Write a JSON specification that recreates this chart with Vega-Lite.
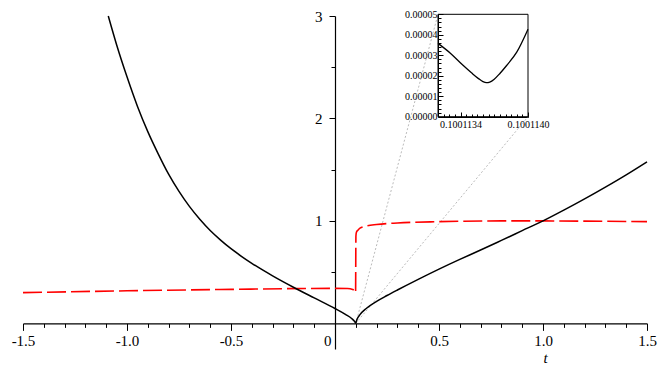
{
  "$schema": "https://vega.github.io/schema/vega-lite/v6.json",
  "width": 624,
  "height": 333,
  "autosize": "none",
  "padding": {"left": 23, "top": 16, "right": 18, "bottom": 26},
  "background": "white",
  "config": {
    "view": {"stroke": null},
    "font": "Liberation Serif",
    "axis": {"labelFont": "Liberation Serif", "titleFont": "Liberation Serif", "labelColor": "#000000", "tickColor": "#000000", "domainColor": "#000000", "grid": false, "labelOverlap": false, "labelFlush": false, "labelBound": false}
  },
  "datasets": {
    "black": [
      {"x": -1.09, "y": 3.0}, {"x": -1.05, "y": 2.72}, {"x": -1.0, "y": 2.4065}, {"x": -0.95, "y": 2.12},
      {"x": -0.9, "y": 1.8715}, {"x": -0.85, "y": 1.655}, {"x": -0.8, "y": 1.4565}, {"x": -0.75, "y": 1.288},
      {"x": -0.7, "y": 1.1415}, {"x": -0.65, "y": 1.016}, {"x": -0.6, "y": 0.9065}, {"x": -0.55, "y": 0.813},
      {"x": -0.5, "y": 0.729}, {"x": -0.45, "y": 0.655}, {"x": -0.4, "y": 0.5865}, {"x": -0.3, "y": 0.464},
      {"x": -0.2, "y": 0.353}, {"x": -0.1, "y": 0.2485}, {"x": 0, "y": 0.145},
      {"x": 0.05, "y": 0.088}, {"x": 0.08, "y": 0.048}, {"x": 0.095, "y": 0.017}, {"x": 0.1, "y": 0.002},
      {"x": 0.105, "y": 0.035}, {"x": 0.12, "y": 0.085}, {"x": 0.15, "y": 0.145}, {"x": 0.2, "y": 0.215},
      {"x": 0.25, "y": 0.272}, {"x": 0.3, "y": 0.326}, {"x": 0.4, "y": 0.43}, {"x": 0.5, "y": 0.53},
      {"x": 0.6, "y": 0.625}, {"x": 0.7, "y": 0.716}, {"x": 0.8, "y": 0.81}, {"x": 0.9, "y": 0.905},
      {"x": 1.0, "y": 1.0}, {"x": 1.1, "y": 1.105}, {"x": 1.2, "y": 1.215}, {"x": 1.3, "y": 1.33},
      {"x": 1.4, "y": 1.45}, {"x": 1.5, "y": 1.577}
    ],
    "red": [
      {"x": -1.5, "y": 0.3}, {"x": -1.0, "y": 0.318}, {"x": -0.5, "y": 0.332}, {"x": 0, "y": 0.342},
      {"x": 0.06, "y": 0.34}, {"x": 0.085, "y": 0.33}, {"x": 0.095, "y": 0.315}, {"x": 0.099, "y": 0.3},
      {"x": 0.0995, "y": 0.45}, {"x": 0.1, "y": 0.7}, {"x": 0.1005, "y": 0.85}, {"x": 0.103, "y": 0.89},
      {"x": 0.11, "y": 0.91}, {"x": 0.12, "y": 0.93}, {"x": 0.15, "y": 0.95}, {"x": 0.2, "y": 0.965},
      {"x": 0.3, "y": 0.98}, {"x": 0.5, "y": 0.993}, {"x": 0.8, "y": 1.0}, {"x": 1.0, "y": 1.0},
      {"x": 1.2, "y": 0.998}, {"x": 1.5, "y": 0.993}
    ],
    "connectors": [
      {"x": 0.1, "y": 0, "x2": 0.4952, "y2": 3.0166},
      {"x": 0.1, "y": 0, "x2": 0.928, "y2": 2.017}
    ],
    "inset": [
      {"x": 0.1001132, "y": 0.0000358}, {"x": 0.10011331, "y": 0.000031}, {"x": 0.10011342, "y": 0.0000252},
      {"x": 0.1001135, "y": 0.0000213}, {"x": 0.10011356, "y": 0.0000186}, {"x": 0.1001136, "y": 0.0000171},
      {"x": 0.10011363, "y": 0.0000166}, {"x": 0.10011366, "y": 0.0000169}, {"x": 0.1001137, "y": 0.0000183},
      {"x": 0.10011375, "y": 0.0000211}, {"x": 0.10011381, "y": 0.0000250},
      {"x": 0.1001139, "y": 0.0000315}, {"x": 0.100114, "y": 0.0000427}
    ],
    "insetBox": [{"x": 0.1001132, "x2": 0.100114, "y": 0, "y2": 0.00005}]
  },
  "layer": [
    {
      "data": {"name": "black"},
      "mark": {"type": "line", "opacity": 0},
      "encoding": {
        "x": {
          "field": "x", "type": "quantitative",
          "scale": {"domain": [-1.5, 1.5], "nice": false, "zero": false},
          "axis": {
            "orient": "bottom", "offset": -25.62, "labels": false, "domain": false, "title": null, "tickSize": 4,
            "values": [-1.4,-1.3,-1.2,-1.1,-0.9,-0.8,-0.7,-0.6,-0.4,-0.3,-0.2,-0.1,0.1,0.2,0.3,0.4,0.6,0.7,0.8,0.9,1.1,1.2,1.3,1.4]
          }
        },
        "y": {
          "field": "y", "type": "quantitative",
          "scale": {"domain": [-0.25, 3], "nice": false, "zero": false},
          "axis": {"orient": "left", "offset": -312, "labels": false, "domain": false, "title": null, "tickSize": 4, "values": [0.5, 1.5, 2.5]}
        }
      }
    },
    {
      "layer": [
        {
          "data": {"name": "connectors"},
          "mark": {"type": "rule", "color": "#aaaaaa", "strokeWidth": 0.8, "strokeDash": [2, 2]},
          "encoding": {
            "x": {"field": "x", "type": "quantitative"},
            "y": {"field": "y", "type": "quantitative"},
            "x2": {"field": "x2"},
            "y2": {"field": "y2"}
          }
        },
        {
          "data": {"name": "red"},
          "mark": {"type": "line", "color": "#ff0000", "strokeWidth": 1.6, "strokeDash": [19, 5], "interpolate": "monotone"},
          "encoding": {
            "x": {"field": "x", "type": "quantitative"},
            "y": {"field": "y", "type": "quantitative"}
          }
        },
        {
          "data": {"name": "black"},
          "mark": {"type": "line", "color": "#000000", "strokeWidth": 1.5, "interpolate": "monotone"},
          "encoding": {
            "x": {
              "field": "x", "type": "quantitative",
              "scale": {"domain": [-1.5, 1.5], "nice": false, "zero": false},
              "axis": {
                "orient": "bottom", "offset": -25.62,
                "values": [-1.5, -1.0, -0.5, 0, 0.5, 1.0, 1.5],
                "tickSize": 7,
                "labelExpr": "abs(datum.value) < 0.001 ? '0' : (datum.value < 0 ? '-' : '') + format(abs(datum.value), '.1f')",
                "labelAlign": {"condition": {"test": "abs(datum.value) < 0.001", "value": "right"}, "value": "center"},
                "labelOffset": {"condition": {"test": "abs(datum.value) < 0.001", "value": -4}, "value": 0},
                "labelPadding": 3, "labelFontSize": 15,
                "tickWidth": 1, "domainWidth": 1.2,
                "title": "t", "titleFontStyle": "italic", "titleFontWeight": "normal",
                "titleFontSize": 15, "titleColor": "#000000", "titleX": 522, "titleY": 34, "titleBaseline": "middle", "titleAlign": "center"
              }
            },
            "y": {
              "field": "y", "type": "quantitative",
              "scale": {"domain": [-0.25, 3], "nice": false, "zero": false},
              "axis": {
                "orient": "left", "offset": -312,
                "values": [1, 2, 3],
                "tickSize": 6,
                "format": "d",
                "labelPadding": 7, "labelFontSize": 15,
                "labelBaseline": "middle",
                "tickWidth": 1, "domainWidth": 1.2,
                "title": null
              }
            }
          }
        }
      ]
    },
    {
      "data": {"name": "inset"},
      "mark": {"type": "line", "opacity": 0},
      "encoding": {
        "x": {
          "field": "x", "type": "quantitative",
          "scale": {"domain": [0.1001132, 0.100114], "range": [415, 505], "nice": false, "zero": false},
          "axis": {
            "orient": "bottom", "offset": -232, "labels": false, "domain": false, "title": null, "tickSize": -3,
            "values": [0.10011325,0.1001133,0.10011335,0.10011345,0.1001135,0.10011355,0.1001136,0.10011365,0.1001137,0.10011375,0.1001138,0.10011385,0.1001139,0.10011395]
          }
        },
        "y": {
          "field": "y", "type": "quantitative",
          "scale": {"domain": [0, 0.00005], "range": [100.7, -1.7], "nice": false, "zero": false},
          "axis": {
            "orient": "left", "offset": -415, "labels": false, "domain": false, "title": null, "tickSize": -3,
            "values": [0.000002,0.000004,0.000006,0.000008,0.000012,0.000014,0.000016,0.000018,0.000022,0.000024,0.000026,0.000028,0.000032,0.000034,0.000036,0.000038,0.000042,0.000044,0.000046,0.000048]
          }
        }
      }
    },
    {
      "layer": [
        {
          "data": {"name": "insetBox"},
          "mark": {"type": "rect", "fill": "white", "fillOpacity": 0, "stroke": "#000000", "strokeWidth": 1},
          "encoding": {
            "x": {"field": "x", "type": "quantitative"},
            "x2": {"field": "x2"},
            "y": {"field": "y", "type": "quantitative"},
            "y2": {"field": "y2"}
          }
        },
        {
          "data": {"name": "inset"},
          "mark": {"type": "line", "color": "#000000", "strokeWidth": 1.3, "interpolate": "monotone"},
          "encoding": {
            "x": {
              "field": "x", "type": "quantitative",
              "scale": {"domain": [0.1001132, 0.100114], "range": [415, 505], "nice": false, "zero": false},
              "axis": {
                "orient": "bottom", "offset": -232,
                "values": [0.1001134, 0.100114],
                "tickSize": -5,
                "format": ".7f",
                "labelPadding": 7, "labelFontSize": 10,
                "title": null
              }
            },
            "y": {
              "field": "y", "type": "quantitative",
              "scale": {"domain": [0, 0.00005], "range": [100.7, -1.7], "nice": false, "zero": false},
              "axis": {
                "orient": "left", "offset": -415,
                "values": [0, 0.00001, 0.00002, 0.00003, 0.00004, 0.00005],
                "tickSize": -5,
                "format": ".5f",
                "labelPadding": 6, "labelFontSize": 10,
                "labelBaseline": "middle",
                "title": null
              }
            }
          }
        }
      ]
    }
  ],
  "resolve": {
    "scale": {"x": "independent", "y": "independent"},
    "axis": {"x": "independent", "y": "independent"}
  }
}
